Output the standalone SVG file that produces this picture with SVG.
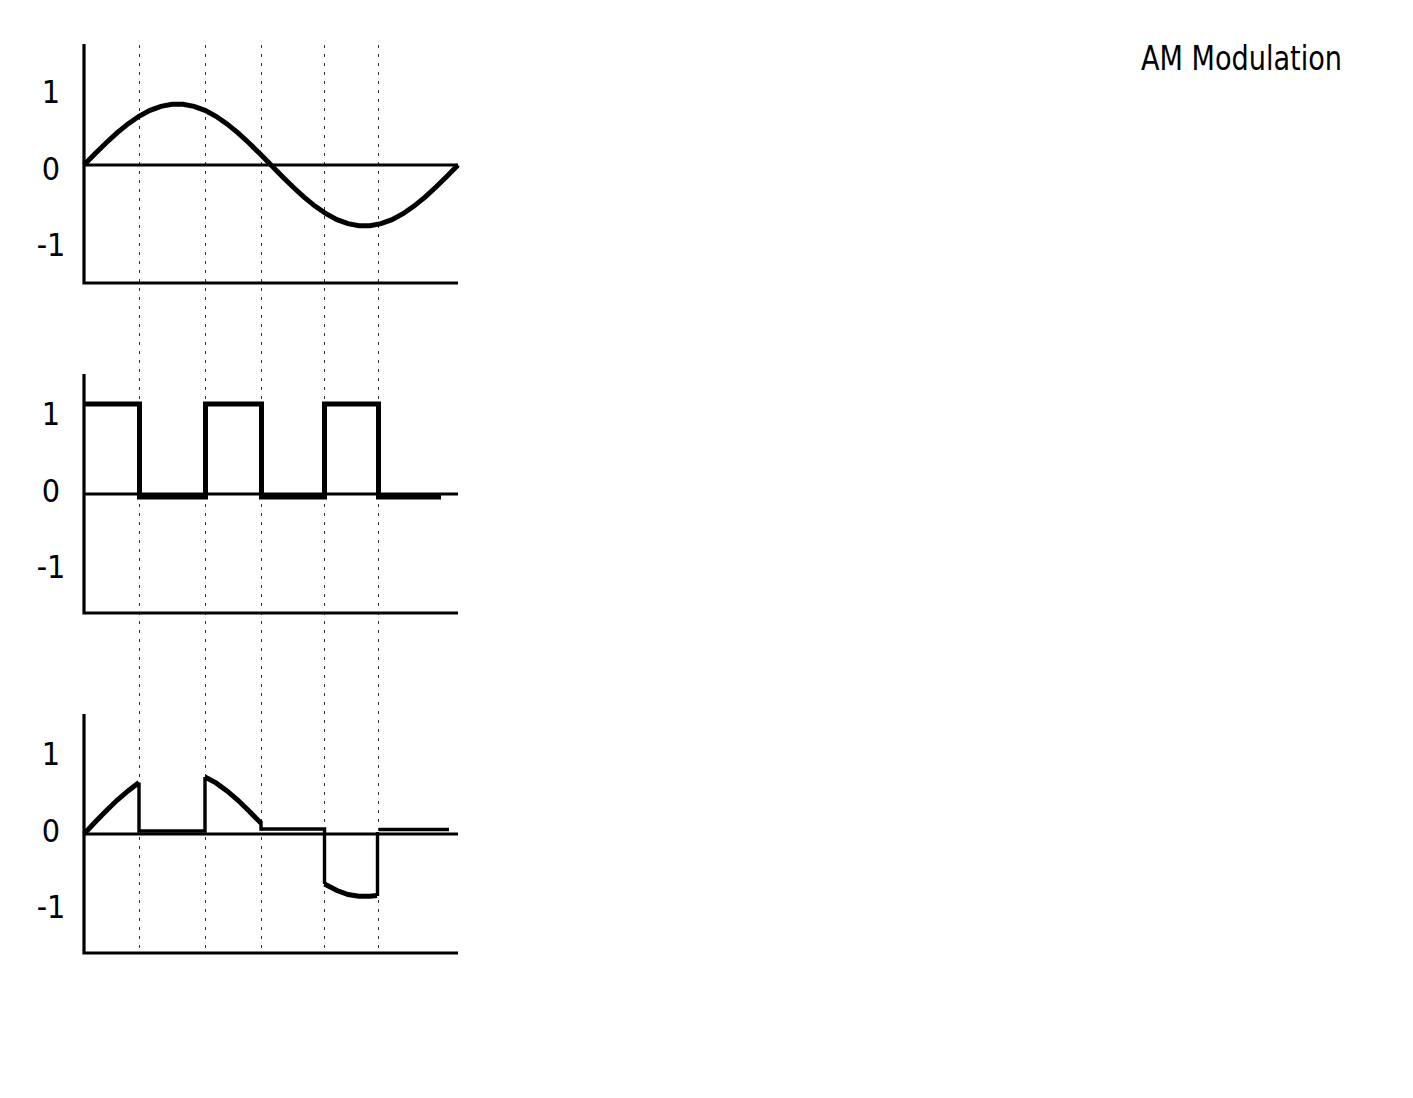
<svg xmlns="http://www.w3.org/2000/svg" width="1413" height="1098" viewBox="0 0 1413 1098">
<style>
.axis{stroke:#000;stroke-width:3.2;fill:none}
.zero{stroke:#000;stroke-width:3;fill:none}
.grid{stroke:#333;stroke-width:1;stroke-dasharray:3 6;fill:none}
.sig{stroke:#000;stroke-width:5;fill:none;stroke-linejoin:miter}
.thin{stroke:#000;stroke-width:3.4;fill:none}
.lbl{font-family:"DejaVu Sans Condensed","DejaVu Sans",sans-serif;font-size:32px;fill:#000;text-anchor:middle}
.title{font-family:"DejaVu Sans Condensed","DejaVu Sans",sans-serif;font-size:34px;fill:#000}
</style>
<rect width="1413" height="1098" fill="#fff"/>
<g id="grid">
<line class="grid" x1="139.5" y1="45" x2="139.5" y2="950"/>
<line class="grid" x1="205.5" y1="45" x2="205.5" y2="950"/>
<line class="grid" x1="261.5" y1="45" x2="261.5" y2="950"/>
<line class="grid" x1="324.5" y1="45" x2="324.5" y2="950"/>
<line class="grid" x1="378.5" y1="45" x2="378.5" y2="950"/>
</g>
<g id="panel-carrier">
<polyline class="axis" points="84,44 84,283 458,283"/>
<line class="zero" x1="84" y1="165" x2="458" y2="165"/>
<polyline class="sig" points="84,165 95,153.8 106,143 117,132.9 128,123.9 139,116.3 150,110.4 161,106.3 172,104.3 183,104.3 194,106.3 205,110.4 216,116.3 227,123.9 238,132.9 249,143 260,153.8 271,165 282,176.2 293,187 304,197.1 315,206.1 326,213.7 337,219.6 348,223.7 359,225.7 370,225.7 381,223.7 392,219.6 403,213.7 414,206.1 425,197.1 436,187 447,176.2 458,165"/>
<text class="lbl" x="51" y="103">1</text>
<text class="lbl" x="51" y="180">0</text>
<text class="lbl" x="51" y="256">-1</text>
</g>
<g id="panel-square">
<polyline class="axis" points="84,374 84,613 458,613"/>
<line class="zero" x1="84" y1="494" x2="458" y2="494"/>
<path class="sig" d="M84,404 H139.5 V497 H205.5 V404 H261.5 V497 H324.5 V404 H378.5 V497 H441"/>
<text class="lbl" x="51" y="425">1</text>
<text class="lbl" x="51" y="502">0</text>
<text class="lbl" x="51" y="578">-1</text>
</g>
<g id="panel-modulated">
<polyline class="axis" points="84,714 84,953 458,953"/>
<line class="zero" x1="84" y1="834" x2="458" y2="834"/>
<polyline class="sig" points="84,834 95,822.2 106,810.9 117,800.3 128,790.9 139,782.5"/>
<polyline class="thin" points="139,782.5 139,831 205,831 205,777"/>
<polyline class="sig" points="205,777 216,782.9 227,790.9 238,800.3 249,810.9 260,822.2 261,823"/>
<polyline class="thin" points="261,821 261,829 324.5,829 324.5,884"/>
<polyline class="sig" points="324.5,884 337,890.5 348,894.5 359,896.3 370,896.3 377,895.5"/>
<polyline class="thin" points="377.5,896 377.5,832"/>
<line class="thin" x1="379" y1="829.5" x2="449" y2="829.5"/>
<text class="lbl" x="51" y="765">1</text>
<text class="lbl" x="51" y="842">0</text>
<text class="lbl" x="51" y="918">-1</text>
</g>
<g id="title">
<text class="title" x="1141" y="70" textLength="201" lengthAdjust="spacingAndGlyphs">AM Modulation</text>
</g>
</svg>
